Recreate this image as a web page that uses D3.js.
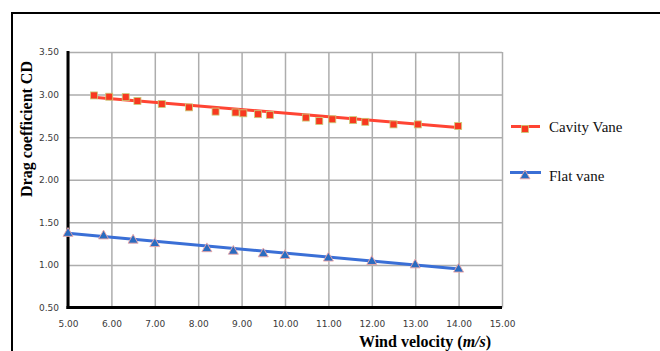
<!DOCTYPE html>
<html><head><meta charset="utf-8">
<script src="https://cdn.jsdelivr.net/npm/d3@7/dist/d3.min.js"></script>
<style>body{margin:0;background:#fff;}svg{display:block;}</style>
</head><body>
<script>
// ---- data ----
const cavityX = [5.60,5.95,6.33,6.60,7.16,7.79,8.40,8.86,9.04,9.38,9.65,10.48,10.79,11.09,11.57,11.85,12.50,13.06,13.99];
const cavityY = [2.99,2.975,2.97,2.925,2.89,2.85,2.80,2.79,2.78,2.77,2.76,2.73,2.69,2.71,2.70,2.68,2.65,2.65,2.63];
const flatX = [5.00,5.82,6.50,7.00,8.20,8.81,9.50,10.00,11.00,12.00,13.00,14.00];
const flatY = [1.38,1.35,1.30,1.26,1.20,1.17,1.14,1.12,1.09,1.05,1.01,0.96];
const cavityTrendX = [5.58,14.05];
const cavityTrendY = [2.968,2.611];
const flatTrendX = [5.00,13.95];
const flatTrendY = [1.372,0.955];
const xTicks = [5,6,7,8,9,10,11,12,13,14,15];
const yTicks = [0.5,1.0,1.5,2.0,2.5,3.0,3.5];
const seriesNames = ["Cavity Vane","Flat vane"];
const yTitle = "Drag coefficient CD";

const W = 660, H = 351;
const svg = d3.select("body").append("svg").attr("width", W).attr("height", H);

// outer frame
svg.append("rect").attr("x", 12).attr("y", 13).attr("width", 720).attr("height", 400)
  .attr("fill", "none").attr("stroke", "#000").attr("stroke-width", 2);

const x = d3.scaleLinear().domain([5, 15]).range([68, 502]);
const y = d3.scaleLinear().domain([0.5, 3.5]).range([307.5, 52]);
const pw = x(15) - x(5), ph = y(0.5) - y(3.5);

// gridlines
const gx = svg.append("g").attr("transform", `translate(0,${y(0.5)})`)
  .call(d3.axisBottom(x).tickValues(xTicks).tickFormat(d3.format(".2f")).tickSizeInner(-ph).tickSizeOuter(0).tickPadding(13));
const gy = svg.append("g").attr("transform", `translate(${x(5)},0)`)
  .call(d3.axisLeft(y).tickValues(yTicks).tickFormat(d3.format(".2f")).tickSizeInner(-pw).tickSizeOuter(0).tickPadding(9));
[gx, gy].forEach(g => {
  g.select(".domain").remove();
  g.selectAll(".tick line").attr("stroke", "#adadad").attr("stroke-width", 1.5);
  g.selectAll(".tick text").attr("fill", "#3a3a3a").attr("font-family", "DejaVu Sans, Verdana, sans-serif").attr("font-size", 9);
});

// axis lines
svg.append("line").attr("x1", x(5)).attr("x2", x(5)).attr("y1", y(3.5) - 1).attr("y2", y(0.5) + 1.5)
  .attr("stroke", "#000").attr("stroke-width", 3);
svg.append("line").attr("x1", x(5) - 1.5).attr("x2", x(15)).attr("y1", y(0.5)).attr("y2", y(0.5))
  .attr("stroke", "#000").attr("stroke-width", 3);

const redC = "#ff4433", blueC = "#3a6fd6";
const line = d3.line().x(d => x(d[0])).y(d => y(d[1]));

// trend lines
svg.append("path").attr("d", line(cavityTrendX.map((v, i) => [v, cavityTrendY[i]])))
  .attr("stroke", redC).attr("stroke-width", 3).attr("fill", "none");
svg.append("path").attr("d", line(flatTrendX.map((v, i) => [v, flatTrendY[i]])))
  .attr("stroke", blueC).attr("stroke-width", 3).attr("fill", "none");

// markers
function square(g, cx, cy) {
  g.append("rect").attr("x", cx - 3.5).attr("y", cy - 3.5).attr("width", 7).attr("height", 7)
    .attr("fill", "#f8381f").attr("stroke", "#c9cf7a").attr("stroke-width", 0.8);
}
function tri(g, cx, cy) {
  g.append("path").attr("d", `M${cx},${cy - 5}L${cx + 5},${cy + 3.8}L${cx - 5},${cy + 3.8}Z`)
    .attr("fill", "#2a6cc0").attr("stroke", "#eea6a6").attr("stroke-width", 0.9);
}
const mg = svg.append("g");
cavityX.forEach((v, i) => square(mg, x(v), y(cavityY[i])));
flatX.forEach((v, i) => tri(mg, x(v), y(flatY[i])));

// legend
const lg = svg.append("g");
lg.append("line").attr("x1", 511).attr("x2", 540).attr("y1", 126.5).attr("y2", 126.5).attr("stroke", redC).attr("stroke-width", 3);
square(lg, 525, 129);
lg.append("text").attr("x", 549).attr("y", 132).text(seriesNames[0])
  .attr("font-family", "Liberation Serif, Times New Roman, serif").attr("font-size", 15).attr("fill", "#111");
lg.append("line").attr("x1", 510).attr("x2", 541).attr("y1", 172.5).attr("y2", 172.5).attr("stroke", blueC).attr("stroke-width", 3);
tri(lg, 525, 175);
lg.append("text").attr("x", 549).attr("y", 181).text(seriesNames[1])
  .attr("font-family", "Liberation Serif, Times New Roman, serif").attr("font-size", 15).attr("fill", "#111");

// axis titles
svg.append("text").attr("transform", "translate(32,129) rotate(-90)").attr("text-anchor", "middle")
  .attr("font-family", "Liberation Serif, Times New Roman, serif").attr("font-weight", "bold").attr("font-size", 16)
  .attr("fill", "#000").text(yTitle);
const xt = svg.append("text").attr("x", 425).attr("y", 347).attr("text-anchor", "middle")
  .attr("font-family", "Liberation Serif, Times New Roman, serif").attr("font-weight", "bold").attr("font-size", 16).attr("fill", "#000");
xt.append("tspan").text("Wind velocity (");
xt.append("tspan").attr("font-style", "italic").text("m/s");
xt.append("tspan").text(")");
</script>
</body></html>
